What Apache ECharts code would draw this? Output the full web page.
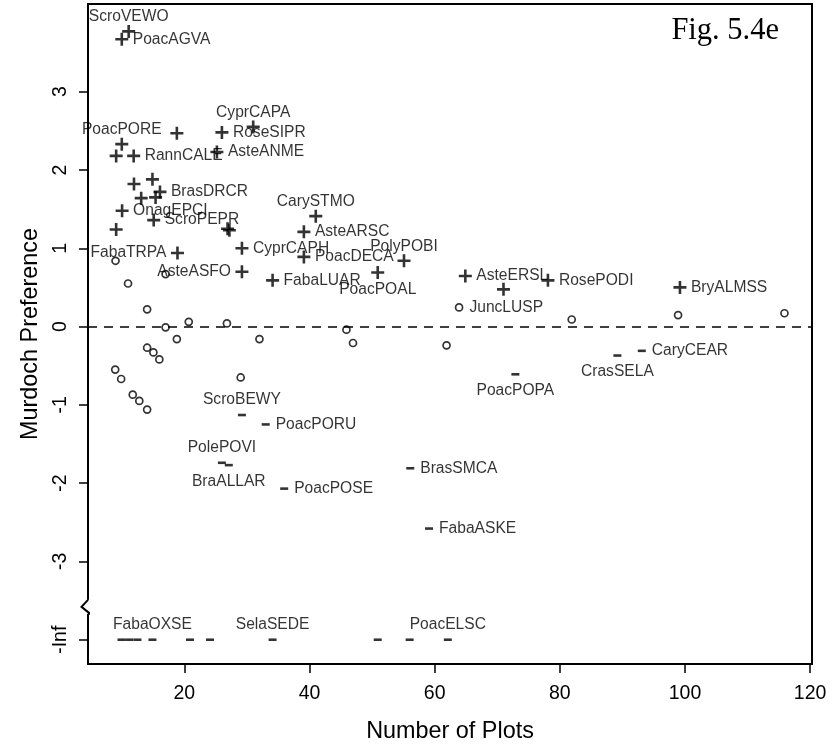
<!DOCTYPE html>
<html>
<head>
<meta charset="utf-8">
<script src="https://cdn.jsdelivr.net/npm/echarts@6/dist/echarts.min.js"></script>
<style>
  html, body { margin: 0; padding: 0; background: #fff; }
  #chart { width: 833px; height: 750px; }
</style>
</head>
<body>
<div id="chart"></div>
<script>
// Species whose Murdoch preference is positive (+)
const posNames = ['ScroVEWO','PoacAGVA','PoacPORE','','RoseSIPR','CyprCAPA','AsteANME','','RannCALE','',
                  '','BrasDRCR','','','OnagEPCI','ScroPEPR','','','','FabaTRPA',
                  'CyprCAPH','AsteASFO','FabaLUAR','CarySTMO','AsteARSC','PoacDECA','PolyPOBI','PoacPOAL','AsteERSL','',
                  'RosePODI','BryALMSS'];
const posPlots = [11.1, 10.0, 10.0, 18.8, 26.0, 31.0, 25.2, 9.1, 11.9, 11.95,
                  14.9, 16.1, 13.1, 15.4, 10.05, 15.1, 9.1, 26.9, 27.2, 18.9,
                  29.2, 29.2, 34.1, 41.0, 39.1, 39.1, 55.1, 50.9, 64.9, 71.0,
                  78.1, 99.2];
const posPref  = [3.77, 3.67, 2.33, 2.47, 2.48, 2.55, 2.23, 2.18, 2.18, 1.82,
                  1.88, 1.72, 1.64, 1.65, 1.48, 1.36, 1.24, 1.25, 1.23, 0.94,
                  1.00, 0.70, 0.59, 1.41, 1.21, 0.89, 0.84, 0.69, 0.645, 0.475,
                  0.59, 0.50];

// Species with no clear preference (o)
const neuNames = ['','','','','','','','','','','','','','','','','','','','','','JuncLUSP','','',''];
const neuPlots = [9.0, 11.0, 14.05, 17.0, 20.7, 26.8, 18.8, 32.0, 14.05, 15.05,
                  16.0, 8.95, 9.9, 29.0, 11.75, 12.8, 14.05, 17.0, 45.9, 46.95,
                  61.9, 63.9, 81.9, 98.9, 115.9];
const neuPref  = [0.84, 0.55, 0.22, -0.01, 0.06, 0.04, -0.16, -0.16, -0.27, -0.33,
                  -0.42, -0.55, -0.67, -0.65, -0.87, -0.95, -1.06, 0.67, -0.04, -0.21,
                  -0.24, 0.245, 0.09, 0.147, 0.17];

// Species whose Murdoch preference is negative (-)
const negNames = ['ScroBEWY','PoacPORU','PolePOVI','BraALLAR','PoacPOSE','BrasSMCA','FabaASKE','PoacPOPA','CrasSELA','CaryCEAR'];
const negPlots = [29.2, 33.0, 26.0, 27.1, 35.95, 56.1, 59.1, 72.9, 89.2, 93.1];
const negPref  = [-1.13, -1.25, -1.74, -1.77, -2.07, -1.81, -2.58, -0.61, -0.37, -0.31];

// Species never found with the host: preference is -Inf
const infNames = ['','','','FabaOXSE','','','SelaSEDE','','','PoacELSC'];
const infPlots = [9.95, 11.2, 12.5, 14.9, 20.9, 24.1, 34.1, 50.9, 56.0, 62.1];
const infPref  = [-Infinity, -Infinity, -Infinity, -Infinity, -Infinity, -Infinity, -Infinity, -Infinity, -Infinity, -Infinity];

// Axis ticks; -Inf is drawn on its own row below the axis break
const xTicks = [20, 40, 60, 80, 100, 120];
const yTicks = [-4, -3, -2, -1, 0, 1, 2, 3];
const INF_ROW = -4;
const BREAK_AT = -3.58;

// ---- presentation -------------------------------------------------------
const labelSide = {
  ScroVEWO: 'top', PoacPORE: 'top', CyprCAPA: 'top', CarySTMO: 'top', PolyPOBI: 'top',
  ScroBEWY: 'top', PolePOVI: 'top', FabaOXSE: 'top', SelaSEDE: 'top', PoacELSC: 'top',
  PoacPOAL: 'bottom', BraALLAR: 'bottom', PoacPOPA: 'bottom', CrasSELA: 'bottom',
  FabaTRPA: 'left', AsteASFO: 'left'
};
const SANS = '"Liberation Sans", Arial, sans-serif';
const PLUS = 'path://M4,0H6V4H10V6H6V10H4V6H0V4H4Z';

function points(names, xs, ys, dist) {
  return xs.map((x, i) => {
    const y = ys[i] === -Infinity ? INF_ROW : ys[i];
    const side = labelSide[names[i]] || 'right';
    return {
      name: names[i],
      value: [x, y],
      label: { position: side, distance: dist[side] }
    };
  });
}

const labelBase = {
  show: true,
  formatter: '{b}',
  fontFamily: SANS,
  fontSize: 15.6,
  color: '#000'
};

const chart = echarts.init(document.getElementById('chart'), null, { renderer: 'canvas' });

chart.setOption({
  animation: false,
  backgroundColor: '#fff',
  grid: {
    left: 88, right: 21, top: 4, bottom: 86,
    show: true, borderColor: '#000', borderWidth: 2, backgroundColor: 'transparent'
  },
  xAxis: {
    type: 'value',
    min: 4.6, max: 120.3,
    splitLine: { show: false },
    axisLine: { show: true, onZero: false, lineStyle: { color: '#000', width: 2 } },
    axisTick: { show: true, length: 9, customValues: xTicks, lineStyle: { color: '#000', width: 1.5 } },
    axisLabel: { customValues: xTicks, margin: 20, fontFamily: SANS, fontSize: 19.5, color: '#000' },
    name: 'Number of Plots',
    nameLocation: 'middle',
    nameGap: 56,
    nameTextStyle: { fontFamily: SANS, fontSize: 23.4, color: '#000' }
  },
  yAxis: {
    type: 'value',
    min: -4.31, max: 4.12,
    splitLine: { show: false },
    axisLine: { show: true, onZero: false, lineStyle: { color: '#000', width: 2 } },
    axisTick: { show: true, length: 9, customValues: yTicks, lineStyle: { color: '#000', width: 1.5 } },
    axisLabel: {
      customValues: yTicks, rotate: 90, margin: 17,
      fontFamily: SANS, fontSize: 19.5, color: '#000',
      formatter: v => (v === INF_ROW ? '-Inf' : String(v))
    },
    name: 'Murdoch Preference',
    nameLocation: 'middle',
    nameGap: 46,
    nameTextStyle: { fontFamily: SANS, fontSize: 23.4, color: '#000' }
  },
  series: [
    {
      name: 'positive',
      type: 'scatter',
      symbol: PLUS,
      symbolSize: 13,
      itemStyle: { color: '#000' },
      label: labelBase,
      data: points(posNames, posPlots, posPref, { right: 4.5, left: 4.5, top: 0, bottom: 2.5 }),
      z: 3
    },
    {
      name: 'neutral',
      type: 'scatter',
      symbol: 'circle',
      symbolSize: 7,
      itemStyle: { color: '#fff', borderColor: '#000', borderWidth: 1.7 },
      label: labelBase,
      data: points(neuNames, neuPlots, neuPref, { right: 6, left: 6, top: 5, bottom: 5 }),
      markLine: {
        silent: true,
        symbol: 'none',
        label: { show: false },
        lineStyle: { color: '#000', width: 1.5, type: [9, 7] },
        data: [{ yAxis: 0 }]
      },
      z: 3
    },
    {
      name: 'negative',
      type: 'scatter',
      symbol: 'rect',
      symbolSize: [8, 2.6],
      itemStyle: { color: '#000' },
      label: labelBase,
      data: points(negNames, negPlots, negPref, { right: 6, left: 6, top: 6, bottom: 7 }),
      z: 3
    },
    {
      name: 'absent',
      type: 'scatter',
      symbol: 'rect',
      symbolSize: [8, 2.6],
      itemStyle: { color: '#000' },
      label: labelBase,
      data: points(infNames, infPlots, infPref, { right: 6, left: 6, top: 6, bottom: 7 }),
      z: 3
    }
  ]
});

// Figure tag and the zig-zag break on the y axis between -3 and -Inf
const axisX = chart.convertToPixel({ xAxisIndex: 0 }, 4.6);
const breakY = chart.convertToPixel({ yAxisIndex: 0 }, BREAK_AT);
chart.setOption({
  graphic: [
    {
      type: 'text',
      right: 54, top: 15,
      style: { text: 'Fig. 5.4e', font: '30.5px "Liberation Serif", "Times New Roman", serif', fill: '#000' },
      z: 10
    },
    {
      type: 'rect',
      shape: { x: axisX - 3, y: breakY - 7, width: 6, height: 14 },
      style: { fill: '#fff' },
      z: 10
    },
    {
      type: 'polyline',
      shape: { points: [[axisX, breakY - 7], [axisX - 6.5, breakY], [axisX + 1, breakY + 6], [axisX + 1, breakY + 8]] },
      style: { stroke: '#000', lineWidth: 2, fill: null },
      z: 11
    }
  ]
});
</script>
</body>
</html>
